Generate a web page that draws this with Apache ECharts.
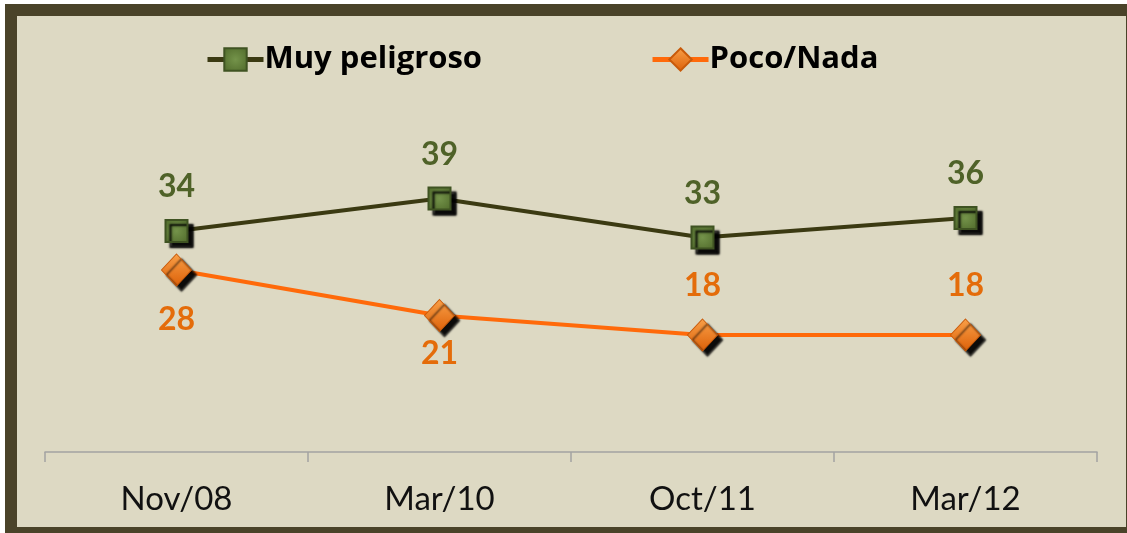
<!DOCTYPE html>
<html>
<head>
<meta charset="utf-8">
<script src="https://cdn.jsdelivr.net/npm/echarts@6/dist/echarts.min.js"></script>
<style>
  html, body { margin: 0; padding: 0; background: #fff; }
  #chart { width: 1127px; height: 533px; }
</style>
</head>
<body>
<div id="chart"></div>
<script>
// data
const categories = ['Nov/08', 'Mar/10', 'Oct/11', 'Mar/12'];
const muyPeligroso = [34, 39, 33, 36];
const pocoNada = [28, 21, 18, 18];

const chart = echarts.init(document.getElementById('chart'));

// where the Poco/Nada labels sit (below for the first two points)
const pocoLabelPos = ['bottom', 'bottom', 'top', 'top'];
const pocoLabelDist = [17, 6, 17, 17];

const shadow = {
  shadowColor: 'rgba(0,0,0,0.95)',
  shadowBlur: 2,
  shadowOffsetX: 5,
  shadowOffsetY: 5
};

chart.setOption({
  animation: false,
  textStyle: { fontFamily: 'Lato' },
  graphic: [
    { type: 'rect', z: -10, shape: { x: 5, y: 4, width: 1122, height: 529 }, style: { fill: '#4A4329' } },
    { type: 'rect', z: -9, shape: { x: 17, y: 16, width: 1109, height: 511 }, style: { fill: '#DDD9C3' } }
  ],
  legend: {
    top: 39,
    left: 200,
    itemWidth: 56,
    itemHeight: 28,
    itemGap: 168,
    textStyle: { fontFamily: 'Open Sans', fontSize: 31, fontWeight: 'bold', color: '#000', padding: [0, 0, 0, -4] },
    lineStyle: { width: 5 },
    itemStyle: { shadowBlur: 0, shadowOffsetX: 0, shadowOffsetY: 0, shadowColor: 'transparent' },
    data: ['Muy peligroso', 'Poco/Nada']
  },
  grid: { left: 45, right: 30, top: 62, bottom: 81 },
  xAxis: {
    type: 'category',
    data: categories,
    axisLine: { lineStyle: { color: '#A3A3A3', width: 1.5 } },
    axisTick: { show: true, length: 10, lineStyle: { color: '#A3A3A3', width: 1.5 } },
    axisLabel: { fontSize: 33, color: '#111', margin: 31 }
  },
  yAxis: {
    type: 'value',
    min: 0,
    max: 60,
    show: false,
    splitLine: { show: false }
  },
  series: [
    {
      name: 'Muy peligroso',
      type: 'line',
      data: muyPeligroso,
      symbol: 'rect',
      symbolSize: 22,
      lineStyle: { color: '#3B3A12', width: 4 },
      itemStyle: Object.assign({
        color: {
          type: 'radial', x: 0.5, y: 0.5, r: 0.7,
          colorStops: [{ offset: 0, color: '#74934A' }, { offset: 1, color: '#4E6829' }]
        },
        borderColor: '#3F5322',
        borderWidth: 2
      }, shadow),
      label: {
        show: true,
        position: 'top',
        distance: 16,
        fontSize: 32,
        fontWeight: 'bold',
        color: '#4F6228'
      },
      z: 3
    },
    {
      name: 'Poco/Nada',
      type: 'line',
      data: pocoNada.map((v, i) => ({
        value: v,
        label: { position: pocoLabelPos[i], distance: pocoLabelDist[i] }
      })),
      symbol: 'diamond',
      symbolSize: [30, 32],
      lineStyle: { color: '#FF6A0A', width: 4 },
      itemStyle: Object.assign({
        color: {
          type: 'linear', x: 0, y: 0, x2: 0, y2: 1,
          colorStops: [{ offset: 0, color: '#F9A048' }, { offset: 1, color: '#DC6008' }]
        },
        borderColor: '#C85A0A',
        borderWidth: 1
      }, shadow),
      label: {
        show: true,
        fontSize: 32,
        fontWeight: 'bold',
        color: '#E46C0A'
      },
      z: 2
    }
  ]
});
</script>
</body>
</html>
